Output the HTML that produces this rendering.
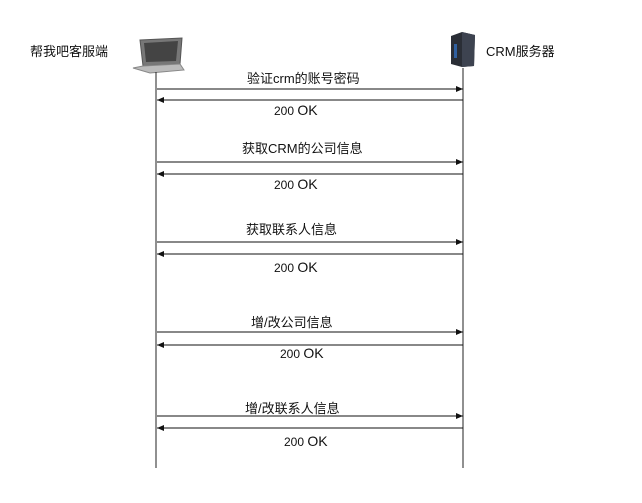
<!DOCTYPE html>
<html><head><meta charset="utf-8"><style>
body{margin:0;background:#fff;}
svg text{font-family:"Liberation Sans","Noto Sans CJK SC",sans-serif;fill:#111;}
</style></head><body>
<svg width="642" height="498" viewBox="0 0 642 498" xmlns="http://www.w3.org/2000/svg">
<defs>
<marker id="a" markerWidth="8" markerHeight="8" refX="7" refY="4" orient="auto" markerUnits="userSpaceOnUse">
<path d="M0,1 L7,4 L0,7 Z" fill="#111"/></marker>
</defs>
<!-- laptop -->
<path d="M140,40 L182,38 L180,64 L143,66 Z" fill="#777" stroke="#555"/>
<path d="M144,43 L178,41 L176,61 L146,62 Z" fill="#444"/>
<path d="M133,68 L143,66 L180,64 L184,70 L150,73 Z" fill="#bbb" stroke="#888"/>
<!-- server -->
<path d="M451,36 L462,32 L475,35 L474,66 L462,67 L451,64 Z" fill="#2a2e36"/>
<path d="M462,32 L475,35 L474,66 L462,67 Z" fill="#3d4350"/>
<rect x="454" y="44" width="3" height="14" fill="#3060a0"/>
<text x="30" y="56" font-size="13">帮我吧客服端</text>
<text x="486" y="56" font-size="13">CRM服务器</text>
<line x1="156" y1="72" x2="156" y2="468" stroke="#222"/>
<line x1="463" y1="68" x2="463" y2="468" stroke="#222"/>
<g stroke="#111" stroke-width="1">
<line x1="157" y1="89" x2="463" y2="89" marker-end="url(#a)"/>
<line x1="463" y1="100" x2="157" y2="100" marker-end="url(#a)"/>
<line x1="157" y1="162" x2="463" y2="162" marker-end="url(#a)"/>
<line x1="463" y1="174" x2="157" y2="174" marker-end="url(#a)"/>
<line x1="157" y1="242" x2="463" y2="242" marker-end="url(#a)"/>
<line x1="463" y1="254" x2="157" y2="254" marker-end="url(#a)"/>
<line x1="157" y1="332" x2="463" y2="332" marker-end="url(#a)"/>
<line x1="463" y1="345" x2="157" y2="345" marker-end="url(#a)"/>
<line x1="157" y1="416" x2="463" y2="416" marker-end="url(#a)"/>
<line x1="463" y1="428" x2="157" y2="428" marker-end="url(#a)"/>
</g>
<g font-size="13">
<text x="247" y="83">验证crm的账号密码</text>
<text x="274" y="115" font-size="12">200 <tspan font-size="14">OK</tspan></text>
<text x="242" y="153">获取CRM的公司信息</text>
<text x="274" y="189" font-size="12">200 <tspan font-size="14">OK</tspan></text>
<text x="246" y="234">获取联系人信息</text>
<text x="274" y="272" font-size="12">200 <tspan font-size="14">OK</tspan></text>
<text x="251" y="327">增/改公司信息</text>
<text x="280" y="358" font-size="12">200 <tspan font-size="14">OK</tspan></text>
<text x="245" y="413">增/改联系人信息</text>
<text x="284" y="446" font-size="12">200 <tspan font-size="14">OK</tspan></text>
</g>
</svg>
</body></html>
